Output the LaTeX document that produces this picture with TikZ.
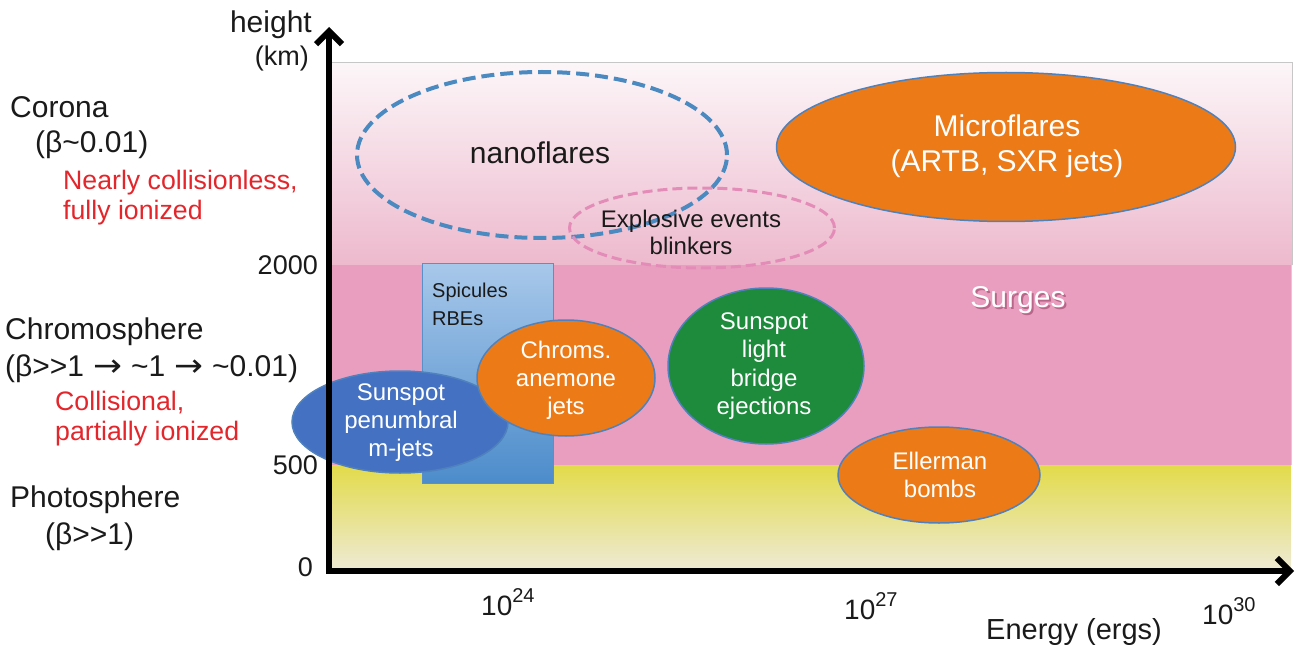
\documentclass[tikz,border=0pt]{standalone}
\usepackage{fontspec}
\setmainfont{Liberation Sans}
\newfontfamily\symfont{DejaVu Sans}
\usetikzlibrary{shapes.geometric,arrows.meta}
\definecolor{orangeF}{HTML}{EC7A17}
\definecolor{ellBorder}{HTML}{4F81BD}
\definecolor{blueF}{HTML}{4471C2}
\definecolor{greenF}{HTML}{1D8A3C}
\definecolor{nanoD}{HTML}{4B8AC0}
\definecolor{explD}{HTML}{E48CB8}
\definecolor{chromF}{HTML}{EA9EBF}
\definecolor{coroTop}{HTML}{FCF6F8}
\definecolor{coroBot}{HTML}{EDB9CD}
\definecolor{photTop}{HTML}{E2DB4A}
\definecolor{photBot}{HTML}{EEEAD6}
\definecolor{spicTop}{HTML}{A8C8EA}
\definecolor{spicBot}{HTML}{4C8CCB}
\definecolor{spicBorder}{HTML}{5A90C8}
\definecolor{redT}{HTML}{E3262B}
\definecolor{surgeShadow}{HTML}{A85579}
\definecolor{inkT}{HTML}{1A1A1A}
\newcommand\tenpow[1]{10\raisebox{0.45em}{\fontsize{20}{20}\selectfont #1}}
\newcommand\rarr{\hspace{9pt}{\symfont\scalebox{1.15}[1.05]{→}}\hspace{9pt}}
\begin{document}
\begin{tikzpicture}[x=1pt,y=-1pt,
  big/.style={inner sep=0pt, text=inkT, font=\fontsize{30}{35}\selectfont},
  tick/.style={inner sep=0pt, text=inkT, font=\fontsize{27}{30}\selectfont},
  rednote/.style={inner sep=0pt, text=redT, align=left, font=\fontsize{26.7}{30}\selectfont},
  blobtext/.style={inner sep=0pt, text=white, align=center, font=\fontsize{24}{28}\selectfont},
  blob/.style={ellipse, inner sep=0pt, draw=ellBorder, line width=1.5pt},
  dashell/.style={ellipse, inner sep=0pt},
  axis/.style={line width=6pt, line join=miter}
]
\useasboundingbox (0,0) rectangle (1298,647);

% layer backgrounds
\shade[top color=coroTop, bottom color=coroBot] (331,63) rectangle (1292,265);
\draw[black!22, line width=1pt] (331,63) -- (1292,63) -- (1292,265);
\fill[chromF] (331,265) rectangle (1291,465);
\draw[black!18, line width=1pt] (1291.5,265) -- (1291.5,465);
\shade[top color=photTop, bottom color=photBot] (331,465) rectangle (1291,571);

% dashed ellipses
\node[dashell, draw=nanoD, line width=4pt, dash pattern=on 13pt off 6pt,
      minimum width=370, minimum height=166] (nano) at (542,155) {};
\node[big] (nanoT) at (540,153) {nanoflares};
\node[dashell, draw=explD, line width=3pt, dash pattern=on 10pt off 5pt,
      minimum width=265, minimum height=80] (expl) at (702,228) {};
\node[inner sep=0pt, text=inkT, align=center, font=\fontsize{24}{27}\selectfont] (explT) at (691,232) {Explosive events\\blinkers};

% microflares
\node[blob, fill=orangeF, minimum width=459, minimum height=149] (micro) at (1006,147) {};
\node[inner sep=0pt, text=white, align=center, font=\fontsize{30}{35}\selectfont] (microT) at (1007,146) {Microflares\\(ARTB, SXR jets)};

% spicules box
\node[draw=spicBorder, line width=1pt, top color=spicTop, bottom color=spicBot,
      minimum width=131, minimum height=220, inner sep=0pt] (spic) at (487.5,373) {};
\node[inner sep=0pt, text=inkT, align=left, anchor=west, font=\fontsize{20}{28}\selectfont] (spicT) at (432,304) {Spicules\\RBEs};

% blobs
\node[blob, fill=blueF, minimum width=216, minimum height=102] (penum) at (400,422) {};
\node[blobtext] (penumT) at (401,423) {Sunspot\\penumbral\\m-jets};
\node[blob, fill=orangeF, minimum width=178, minimum height=116] (anem) at (566,378) {};
\node[blobtext] (anemT) at (566,380) {Chroms.\\anemone\\jets};
\node[blob, fill=greenF, minimum width=196, minimum height=156] (lb) at (766,366) {};
\node[blobtext, font=\fontsize{24}{28.5}\selectfont] (lbT) at (764,366) {Sunspot\\light\\bridge\\ejections};
\node[blob, fill=orangeF, minimum width=202, minimum height=96] (eller) at (939,475) {};
\node[blobtext] (ellerT) at (940,475) {Ellerman\\bombs};

% surges
\node[big, text=surgeShadow, opacity=0.75] (surgesS) at (1020,302) {Surges};
\node[big, text=white] (surges) at (1018,300) {Surges};

% axes
\coordinate (origin) at (329,571);
\coordinate (ytop) at (329,27);
\coordinate (xend) at (1294,571);
\draw[axis, {Straight Barb[length=13pt,width=26pt]}-{Straight Barb[length=13pt,width=26pt]}] (ytop) -- (origin) -- (xend);

% axis labels
\node[big, anchor=east] (hl) at (312,25) {height};
\node[tick, anchor=east] (km) at (309,59) {(km)};
\node[tick, anchor=east] (t2000) at (318,265) {2000};
\node[tick, anchor=east] (t500) at (318,465) {500};
\node[tick, anchor=east] (t0) at (313,567) {0};
\node[tick, anchor=west, font=\fontsize{28}{30}\selectfont] (x24) at (481,602) {\tenpow{24}};
\node[tick, anchor=west, font=\fontsize{28}{30}\selectfont] (x27) at (844,606) {\tenpow{27}};
\node[tick, anchor=west, font=\fontsize{28}{30}\selectfont] (x30) at (1202,611) {\tenpow{30}};
\node[big, anchor=west, font=\fontsize{29}{30}\selectfont] (en) at (986,632) {Energy (ergs)};

% layer descriptions
\node[big, anchor=west] (corona) at (10,107) {Corona};
\node[big, anchor=west] (coronaB) at (35,145) {(β\textasciitilde 0.01)};
\node[rednote, anchor=west] (coronaN) at (63,198) {Nearly collisionless,\\fully ionized};
\node[big, anchor=west] (chromo) at (5,332) {Chromosphere};
\node[big, anchor=west] (chromoB) at (5,369) {(β>{}>1\rarr\textasciitilde 1\rarr\textasciitilde 0.01)};
\node[rednote, anchor=west] (chromoN) at (55,419) {Collisional,\\partially ionized};
\node[big, anchor=west] (photo) at (10,500) {Photosphere};
\node[big, anchor=west] (photoB) at (45,537) {(β>{}>1)};
\end{tikzpicture}
\end{document}
